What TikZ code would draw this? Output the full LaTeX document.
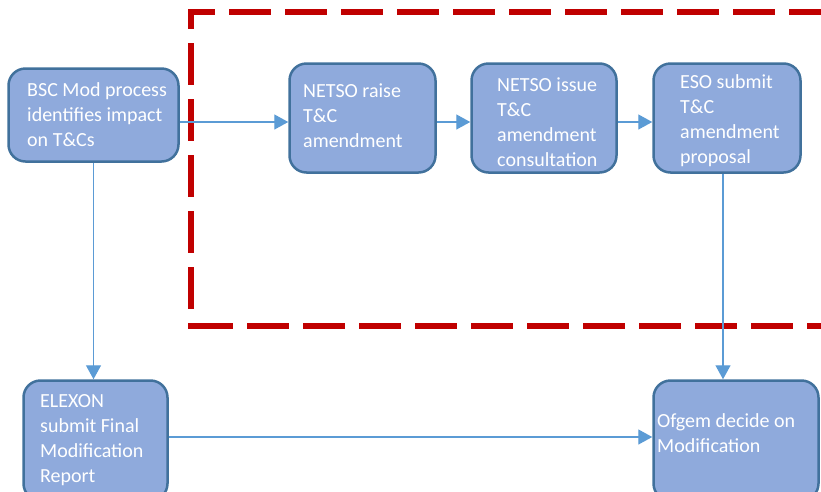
\documentclass[tikz,border=0pt]{standalone}
\usepackage{fontspec}
\setmainfont{Carlito}
\usetikzlibrary{arrows.meta}
\definecolor{boxfill}{HTML}{8FAADC}
\definecolor{boxline}{HTML}{41719C}
\definecolor{arr}{HTML}{5B9BD5}
\definecolor{dashred}{HTML}{C00000}
\begin{document}
\begin{tikzpicture}[x=1pt,y=-1pt,
  procbox/.style={draw=boxline, fill=boxfill, line width=2.5pt, rounded corners=17pt, inner sep=0pt},
  boxtext/.style={text=white, font=\fontsize{20}{25}\selectfont, align=left, inner sep=0pt, anchor=west},
  flow/.style={draw=arr, line width=1.4pt, -{Triangle[length=14pt,width=15pt]}},
  frameline/.style={draw=dashred, line width=6pt, dash pattern=on 42pt off 14pt}]
\useasboundingbox (0,0) rectangle (821,491);
% dashed red frame
\draw[frameline, dash phase=15pt] (188,12) -- (840,12);
\draw[frameline, dash phase=22pt] (191,9) -- (191,329);
\draw[frameline, dash phase=0pt] (191,326) -- (840,326);
% boxes
\node[procbox, minimum width=170pt, minimum height=93pt] (bsc) at (93.5,115) {};
\node[procbox, minimum width=146pt, minimum height=109pt] (raise) at (362.5,118) {};
\node[procbox, minimum width=145pt, minimum height=109pt] (issue) at (544,118) {};
\node[procbox, minimum width=147pt, minimum height=109pt] (eso) at (727,118) {};
\node[procbox, minimum width=144pt, minimum height=120pt] (elexon) at (95.5,440.5) {};
\node[procbox, minimum width=165pt, minimum height=120pt] (ofgem) at (736,440.5) {};
% connectors
\draw[flow] ([yshift=-7pt]bsc.east) -- ([yshift=-7pt]bsc.east -| raise.west);
\draw[flow] ([yshift=-4pt]raise.east) -- ([yshift=-4pt]issue.west);
\draw[flow] ([yshift=-4pt]issue.east) -- ([yshift=-4pt]eso.west);
\draw[flow] (bsc.south) -- (bsc.south |- elexon.north);
\draw[flow] ([xshift=-4pt]eso.south) -- ([xshift=-4pt]eso.south |- ofgem.north);
\draw[flow] ([yshift=3.5pt]elexon.east) -- ([yshift=3.5pt]elexon.east -| ofgem.west);
% texts
\node[boxtext] (bsct) at (27,115) {BSC Mod process\\identifies impact\\on T\&Cs};
\node[boxtext] (raiset) at (303,116) {NETSO raise\\T\&C\\amendment};
\node[boxtext] (issuet) at (497,122.5) {NETSO issue\\T\&C\\amendment\\consultation};
\node[boxtext] (esot) at (680,120.5) {ESO submit\\T\&C\\amendment\\proposal};
\node[boxtext] (elexont) at (40,440) {ELEXON\\submit Final\\Modification\\Report};
\node[boxtext] (ofgemt) at (657,433.5) {Ofgem decide on\\Modification};
\end{tikzpicture}
\end{document}
